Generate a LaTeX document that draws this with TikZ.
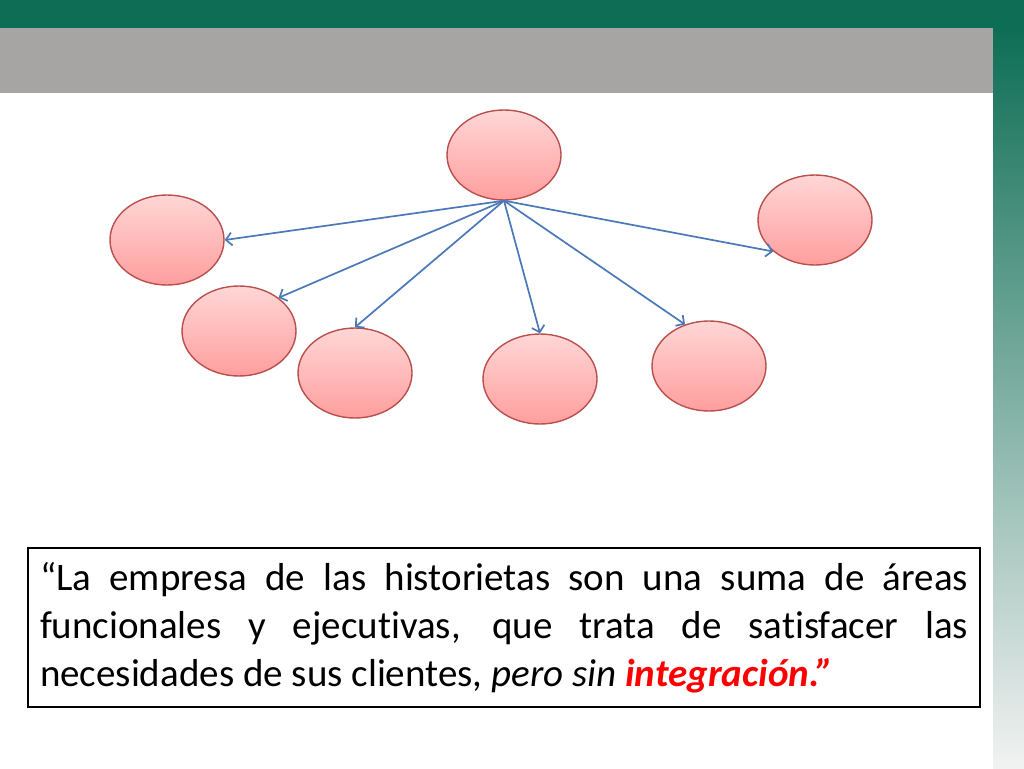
\documentclass[tikz,border=0pt]{standalone}
\usepackage{fontspec}
\setmainfont{Carlito}[Ligatures=NoCommon]
\usetikzlibrary{shapes.geometric,arrows.meta}
\definecolor{slidegreen}{HTML}{0E6E55}
\definecolor{slidegrey}{HTML}{A6A5A3}
\definecolor{stripmid}{HTML}{BCCBC3}
\definecolor{stripend}{HTML}{F2F2F2}
\definecolor{bubbletop}{HTML}{FFD6D6}
\definecolor{bubblebottom}{HTML}{FF9E9E}
\definecolor{bubbleedge}{HTML}{B9504D}
\definecolor{arrowblue}{HTML}{4A78B8}
\definecolor{quotered}{HTML}{FF0000}

\begin{document}
\begin{tikzpicture}[x=1pt,y=-1pt]
                \tikzstyle{bubble} = [ellipse, minimum width=114pt, minimum height=90pt, inner sep=0pt, draw=bubbleedge, line width=1.4pt, top color=bubbletop, bottom color=bubblebottom]
                \tikzstyle{arrow} = [line width=1.7pt, draw=arrowblue, -{Straight Barb[length=6pt,width=13pt]}]
                \tikzstyle{quotebox} = [rectangle, draw=black, line width=2.5pt, text width=928pt, inner sep=12pt, minimum height=159pt, align=justify, font=\fontsize{39}{48}\selectfont]

                \useasboundingbox (0,0) rectangle (1024,768);
                \fill [slidegreen] (0,0) rectangle (1024,28);
                \fill [slidegrey] (0,28) rectangle (993,93);
                \shade [top color=slidegreen, middle color=stripmid, bottom color=stripend] (993,28) rectangle (1024,768);

                \node (hub) [bubble] at (504,155) {};
                \node (west) [bubble] at (167,240) {};
                \node (lowwest) [bubble] at (239,331) {};
                \node (midwest) [bubble] at (355,373) {};
                \node (middle) [bubble] at (540,379) {};
                \node (mideast) [bubble] at (709,366) {};
                \node (east) [bubble] at (815,220) {};

                \draw [arrow] (hub.south) -- (west.east);
                \draw [arrow] (hub.south) -- (lowwest.40);
                \draw [arrow] (hub.south) -- (midwest.north);
                \draw [arrow] (hub.south) -- (middle.north);
                \draw [arrow] (hub.south) -- (mideast.120);
                \draw [arrow] (hub.south) -- (east.217);

                \node (quote) [quotebox] at (504,627.5) {“La empresa de las historietas son una suma de áreas\linebreak funcionales y ejecutivas, que trata de satisfacer las\linebreak necesidades de sus clientes, \textit{pero sin} \textcolor{quotered}{\textbf{\textit{integración.”}}}};
            \end{tikzpicture}
\end{document}
